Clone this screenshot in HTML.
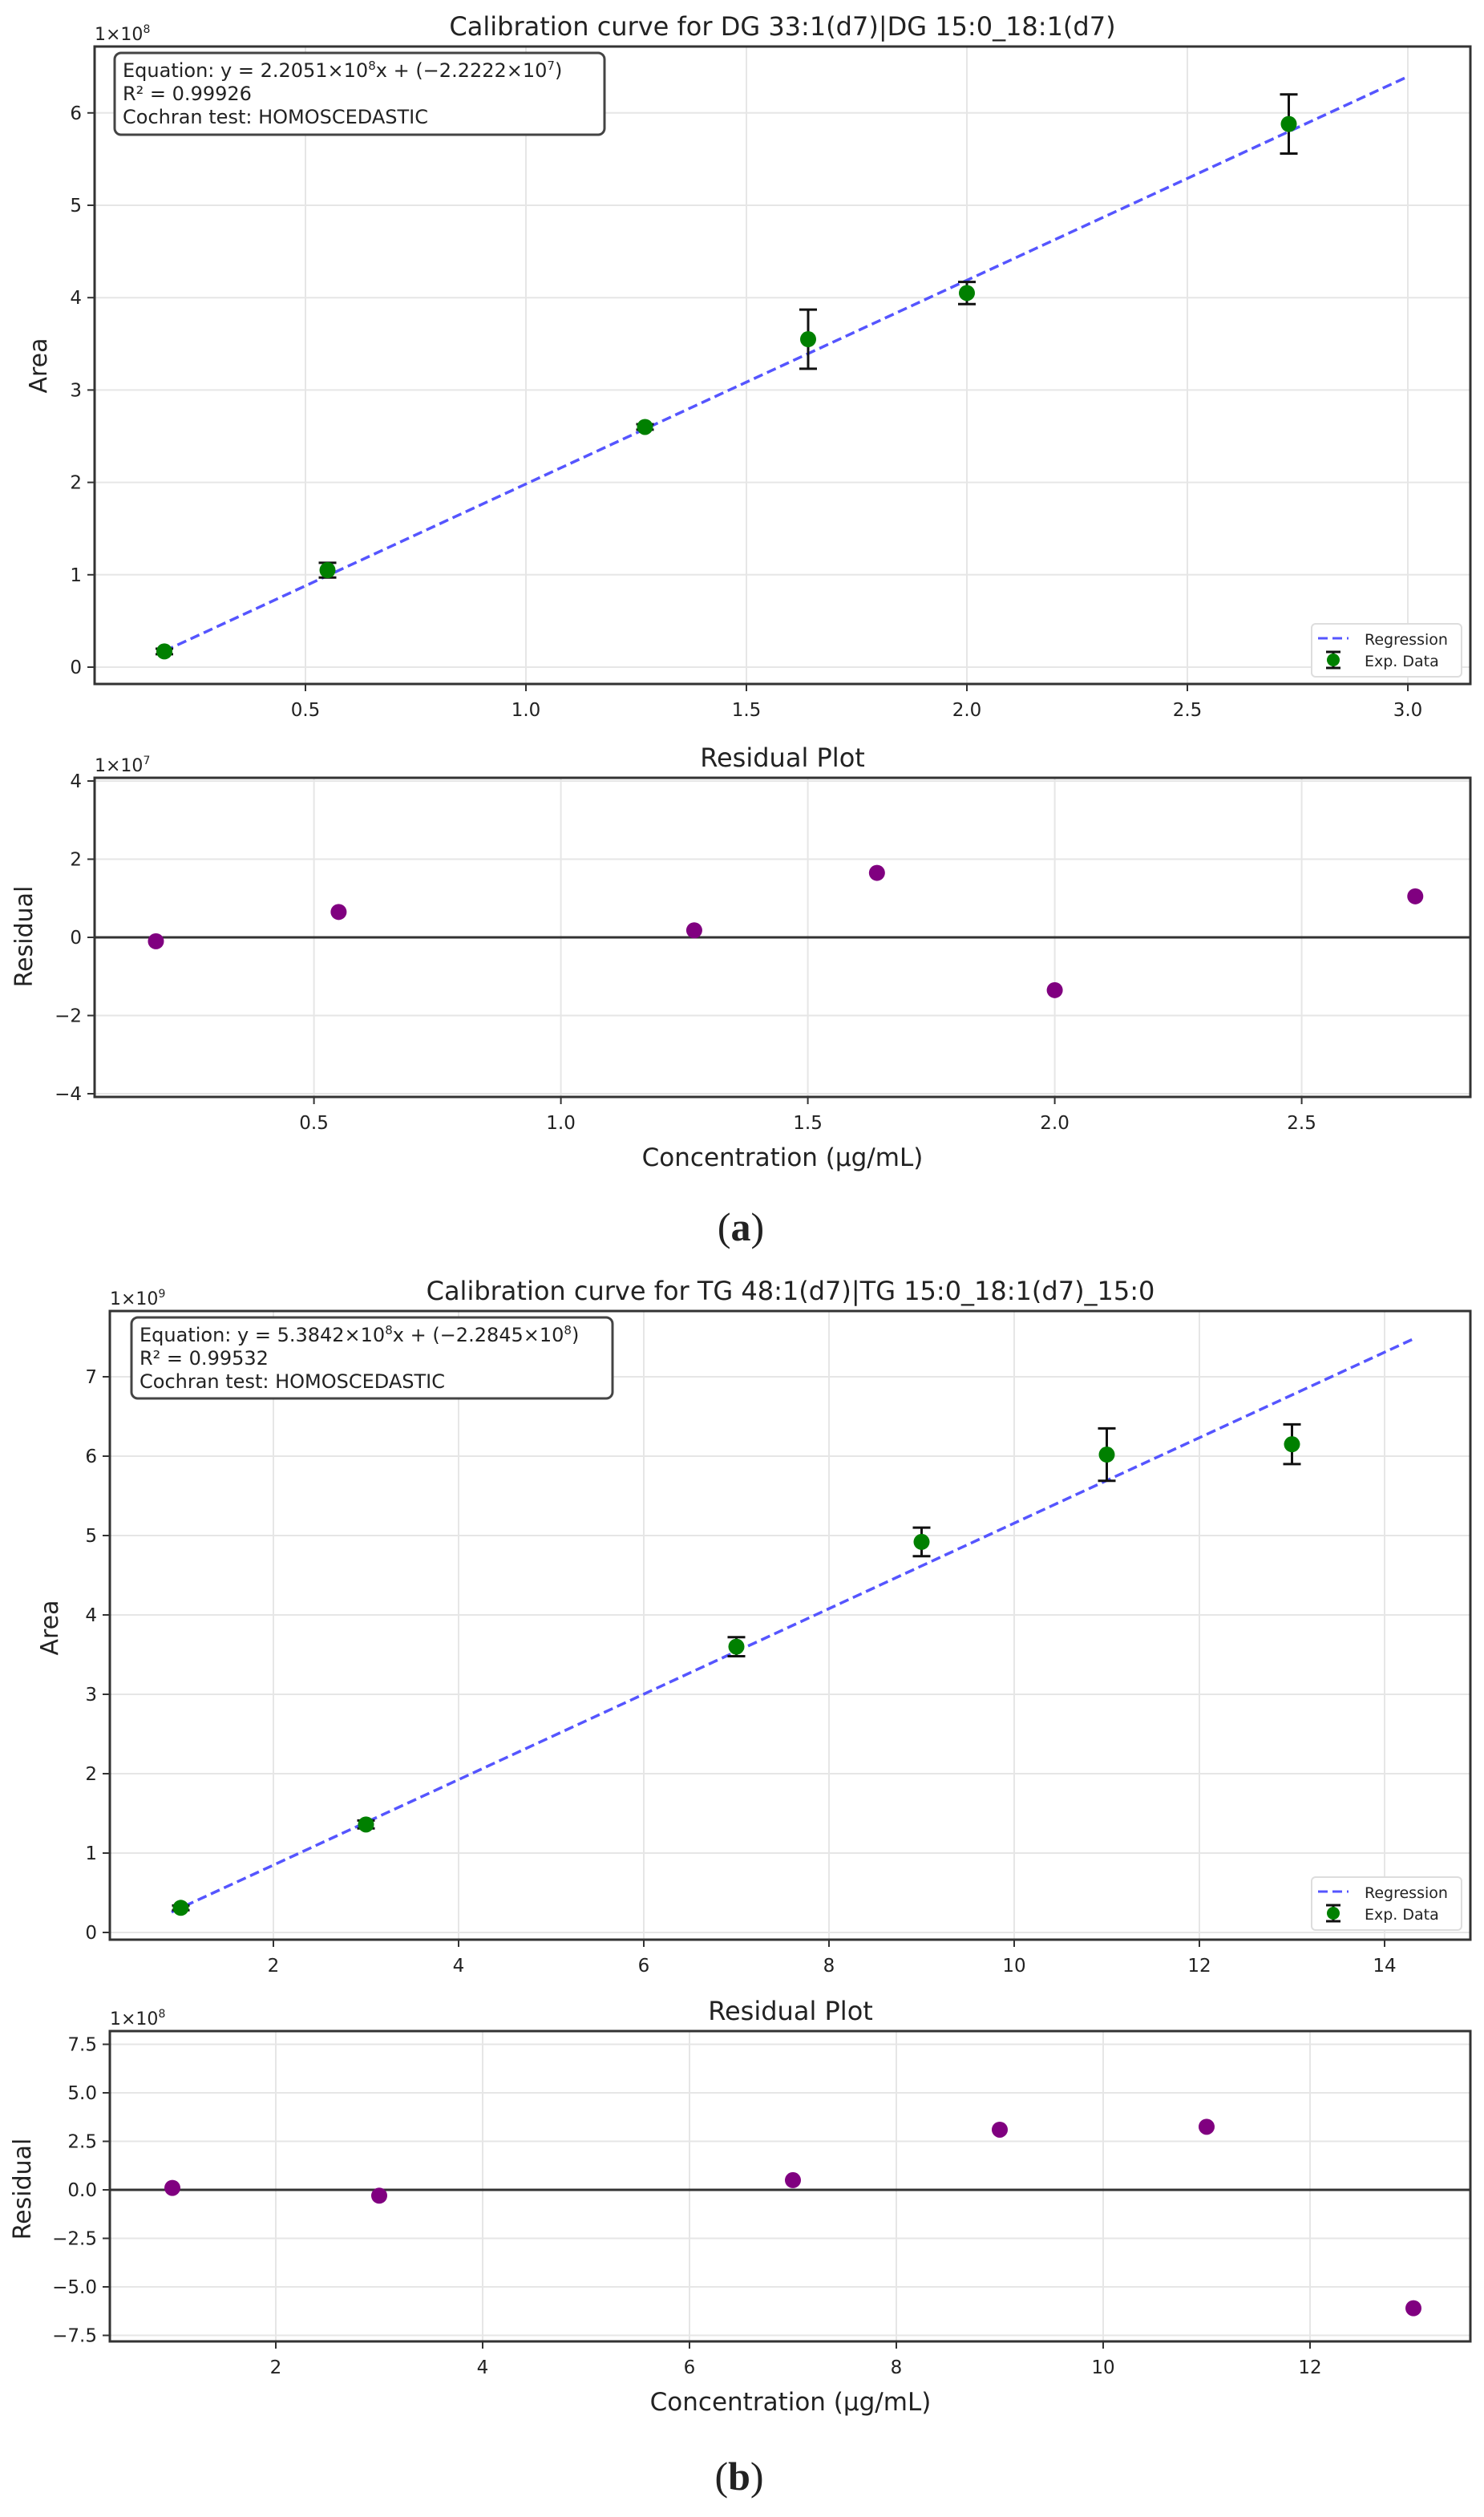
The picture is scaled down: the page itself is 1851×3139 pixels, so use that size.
<!DOCTYPE html>
<html><head><meta charset="utf-8"><style>
html,body{margin:0;padding:0;background:#fff}
svg{display:block}
text{font-family:"DejaVu Sans","Liberation Sans",sans-serif;fill:#222}
</style></head><body>
<svg id="s" width="1851" height="3139" viewBox="0 0 1851 3139" xmlns="http://www.w3.org/2000/svg"></svg>
<script>
const S=document.getElementById('s');let h='';
function ax(o){
 const X=v=>o.x0+v*o.xs, Y=v=>o.y0-v*o.ys;
 o.xt.forEach(t=>{h+=`<line x1="${X(t)}" y1="${o.T}" x2="${X(t)}" y2="${o.B}" stroke="#e6e6e6" stroke-width="2"/>`;});
 o.yt.forEach(t=>{h+=`<line x1="${o.L}" y1="${Y(t)}" x2="${o.R}" y2="${Y(t)}" stroke="#e6e6e6" stroke-width="2"/>`;});
 o.xt.forEach((t,i)=>{h+=`<line x1="${X(t)}" y1="${o.B}" x2="${X(t)}" y2="${o.B+9}" stroke="#333" stroke-width="2"/><text x="${X(t)}" y="${o.B+40}" font-size="23" text-anchor="middle">${o.xl[i]}</text>`;});
 o.yt.forEach((t,i)=>{h+=`<line x1="${o.L-9}" y1="${Y(t)}" x2="${o.L}" y2="${Y(t)}" stroke="#333" stroke-width="2"/><text x="${o.L-16}" y="${Y(t)+8}" font-size="23" text-anchor="end">${o.yl[i]}</text>`;});
 h+=`<text x="${o.L}" y="${o.T-8}" font-size="22">1×10<tspan font-size="14" dy="-9">${o.exp}</tspan></text>`;
 h+=`<text x="${o.tx}" y="${o.T-14}" font-size="32" text-anchor="middle">${o.title}</text>`;
 h+=`<text transform="translate(${o.ylx},${o.yly}) rotate(-90)" font-size="30" text-anchor="middle">${o.ylab}</text>`;
 if(o.xlab) h+=`<text x="${o.tx}" y="${o.B+86}" font-size="31" text-anchor="middle">${o.xlab}</text>`;
 return [X,Y];
}
function main(o){
 const [X,Y]=ax(o);
 h+=`<line x1="${X(o.l0)}" y1="${Y(o.m*o.l0+o.c)}" x2="${X(o.l1)}" y2="${Y(o.m*o.l1+o.c)}" stroke="#5555ff" stroke-width="3.5" stroke-dasharray="12,6"/>`;
 o.d.forEach(p=>{const x=X(p[0]);h+=`<line x1="${x}" y1="${Y(p[1]-p[2])}" x2="${x}" y2="${Y(p[1]+p[2])}" stroke="#111" stroke-width="3"/><line x1="${x-11}" y1="${Y(p[1]-p[2])}" x2="${x+11}" y2="${Y(p[1]-p[2])}" stroke="#111" stroke-width="3"/><line x1="${x-11}" y1="${Y(p[1]+p[2])}" x2="${x+11}" y2="${Y(p[1]+p[2])}" stroke="#111" stroke-width="3"/><circle cx="${x}" cy="${Y(p[1])}" r="10" fill="#008000"/>`;});
 const e=o.eq;
 h+=`<rect x="${e[0]}" y="${e[1]}" width="${e[2]}" height="${e[3]}" rx="8" fill="#fff" stroke="#444" stroke-width="3"/>`;
 e[4].forEach((t,i)=>{h+=`<text x="${e[0]+10}" y="${e[1]+30+i*29}" font-size="24">${t}</text>`;});
 const g=o.lg;
 h+=`<rect x="${g[0]}" y="${g[1]}" width="187" height="66" rx="5" fill="#fff" stroke="#ddd" stroke-width="2"/>`;
 h+=`<line x1="${g[0]+8}" y1="${g[1]+18}" x2="${g[0]+46}" y2="${g[1]+18}" stroke="#5555ff" stroke-width="3" stroke-dasharray="12,6"/><text x="${g[0]+66}" y="${g[1]+26}" font-size="19">Regression</text>`;
 const cx=g[0]+27,cy=g[1]+45;
 h+=`<line x1="${cx}" y1="${cy-10}" x2="${cx}" y2="${cy+10}" stroke="#111" stroke-width="3"/><line x1="${cx-9}" y1="${cy-10}" x2="${cx+9}" y2="${cy-10}" stroke="#111" stroke-width="3"/><line x1="${cx-9}" y1="${cy+10}" x2="${cx+9}" y2="${cy+10}" stroke="#111" stroke-width="3"/><circle cx="${cx}" cy="${cy}" r="8" fill="#008000"/><text x="${g[0]+66}" y="${g[1]+53}" font-size="19">Exp. Data</text>`;
 h+=`<rect x="${o.L}" y="${o.T}" width="${o.R-o.L}" height="${o.B-o.T}" fill="none" stroke="#333" stroke-width="3"/>`;
}
function res(o){
 const [X,Y]=ax(o);
 h+=`<line x1="${o.L}" y1="${Y(0)}" x2="${o.R}" y2="${Y(0)}" stroke="#333" stroke-width="3"/>`;
 o.d.forEach(p=>{h+=`<circle cx="${X(p[0])}" cy="${Y(p[1])}" r="10" fill="#800080"/>`;});
 h+=`<rect x="${o.L}" y="${o.T}" width="${o.R-o.L}" height="${o.B-o.T}" fill="none" stroke="#333" stroke-width="3"/>`;
}
main({L:118,R:1834,T:58,B:853,x0:106,xs:550,y0:832,ys:115.2,xt:[0.5,1,1.5,2,2.5,3],xl:['0.5','1.0','1.5','2.0','2.5','3.0'],yt:[0,1,2,3,4,5,6],yl:['0','1','2','3','4','5','6'],exp:'8',tx:976,title:'Calibration curve for DG 33:1(d7)|DG 15:0_18:1(d7)',ylx:58,yly:456,ylab:'Area',
 m:2.2051,c:-0.2222,l0:0.18,l1:3.0,d:[[0.18,0.17,0.03],[0.55,1.05,0.08],[1.27,2.6,0.03],[1.64,3.55,0.32],[2.0,4.05,0.12],[2.73,5.88,0.32]],
 eq:[143,66,611,102,['Equation: y = 2.2051×10<tspan font-size="15" dy="-9">8</tspan><tspan dy="9">x + (−2.2222×10</tspan><tspan font-size="15" dy="-9">7</tspan><tspan dy="9">)</tspan>','R² = 0.99926','Cochran test: HOMOSCEDASTIC']],lg:[1636,778]});
res({L:118,R:1834,T:970,B:1368,x0:83.6,xs:616,y0:1169,ys:48.75,xt:[0.5,1,1.5,2,2.5],xl:['0.5','1.0','1.5','2.0','2.5'],yt:[-4,-2,0,2,4],yl:['−4','−2','0','2','4'],exp:'7',tx:976,title:'Residual Plot',ylx:40,yly:1168,ylab:'Residual',xlab:'Concentration (μg/mL)',
 d:[[0.18,-0.1],[0.55,0.65],[1.27,0.18],[1.64,1.65],[2.0,-1.35],[2.73,1.05]]});
main({L:137,R:1834,T:1635,B:2419,x0:110,xs:115.5,y0:2410,ys:99,xt:[2,4,6,8,10,12,14],xl:['2','4','6','8','10','12','14'],yt:[0,1,2,3,4,5,6,7],yl:['0','1','2','3','4','5','6','7'],exp:'9',tx:986,title:'Calibration curve for TG 48:1(d7)|TG 15:0_18:1(d7)_15:0',ylx:72,yly:2030,ylab:'Area',
 m:0.53842,c:-0.22845,l0:0.9,l1:14.3,d:[[1,0.31,0.03],[3,1.36,0.05],[7,3.6,0.12],[9,4.92,0.18],[11,6.02,0.33],[13,6.15,0.25]],
 eq:[164,1643,600,101,['Equation: y = 5.3842×10<tspan font-size="15" dy="-9">8</tspan><tspan dy="9">x + (−2.2845×10</tspan><tspan font-size="15" dy="-9">8</tspan><tspan dy="9">)</tspan>','R² = 0.99532','Cochran test: HOMOSCEDASTIC']],lg:[1636,2341]});
res({L:137,R:1834,T:2533,B:2920,x0:86,xs:129,y0:2731,ys:24.2,xt:[2,4,6,8,10,12],xl:['2','4','6','8','10','12'],yt:[-7.5,-5,-2.5,0,2.5,5,7.5],yl:['−7.5','−5.0','−2.5','0.0','2.5','5.0','7.5'],exp:'8',tx:986,title:'Residual Plot',ylx:38,yly:2730,ylab:'Residual',xlab:'Concentration (μg/mL)',
 d:[[1,0.1],[3,-0.3],[7,0.5],[9,3.1],[11,3.25],[13,-6.1]]});
h+=`<text x="924" y="1547" font-size="50" style="font-family:'Liberation Serif',serif" text-anchor="middle">(<tspan font-weight="bold">a</tspan>)</text>`;
h+=`<text x="922" y="3105" font-size="50" style="font-family:'Liberation Serif',serif" text-anchor="middle">(<tspan font-weight="bold">b</tspan>)</text>`;
S.innerHTML=h;
</script>
</body></html>
